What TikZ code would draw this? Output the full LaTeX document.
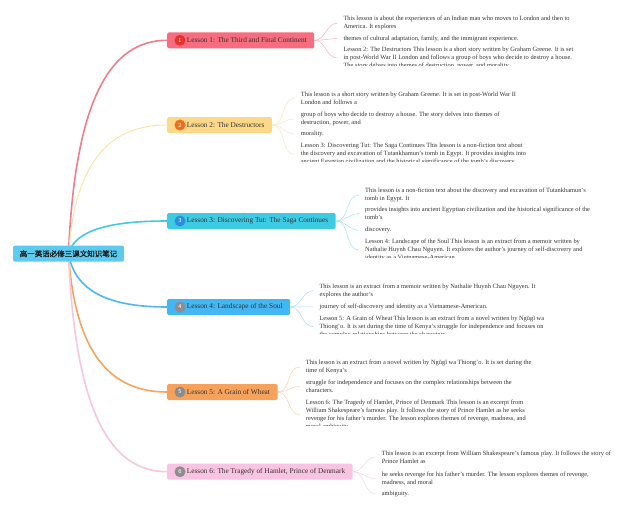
\documentclass[tikz,border=0pt]{standalone}
\usepackage{fontspec}
\setmainfont{Liberation Serif}
\newfontfamily\cjk[FakeBold=1]{Noto Sans CJK SC}
\usetikzlibrary{backgrounds}
\definecolor{txt}{HTML}{333333}
\definecolor{rootc}{HTML}{5CCBEF}
\definecolor{bA}{HTML}{F76C7E}\definecolor{iA}{HTML}{E5322D}\definecolor{mA}{HTML}{EF7E8B}\definecolor{sA}{HTML}{F4B3BB}
\definecolor{bB}{HTML}{FDD888}\definecolor{iB}{HTML}{E8701E}\definecolor{mB}{HTML}{FDE2A6}\definecolor{sB}{HTML}{FBE6C4}
\definecolor{bC}{HTML}{3DCBE3}\definecolor{iC}{HTML}{2B8DE0}\definecolor{mC}{HTML}{45C9E0}\definecolor{sC}{HTML}{A6E3EE}
\definecolor{bD}{HTML}{43B7F3}\definecolor{iD}{HTML}{8E8E8E}\definecolor{mD}{HTML}{4FB9EF}\definecolor{sD}{HTML}{A9D9F4}
\definecolor{bE}{HTML}{F7A25B}\definecolor{iE}{HTML}{8C8C8C}\definecolor{mE}{HTML}{F6A55E}\definecolor{sE}{HTML}{F8D1AE}
\definecolor{bF}{HTML}{F9C3E2}\definecolor{iF}{HTML}{8E8E8E}\definecolor{mF}{HTML}{F9C6DF}\definecolor{sF}{HTML}{F5D6E6}
\begin{document}
\begin{tikzpicture}[x=1pt,y=-1pt,
  rootbox/.style={rectangle, rounded corners=2pt, fill=rootc, minimum width=111pt, minimum height=16pt, inner sep=0pt, text=black!90, font=\cjk\fontsize{7.5}{9}\selectfont},
  lessonbox/.style={rectangle, rounded corners=1.5pt, anchor=west, minimum height=16pt, inner xsep=7.5pt, inner ysep=0pt, text=txt, font=\fontsize{7.3}{9}\selectfont},
  icon/.style={circle, minimum size=11pt, inner sep=0pt, text=white, font=\sffamily\fontsize{6}{7}\selectfont},
  para/.style={anchor=base west, inner xsep=6pt, inner ysep=0pt, align=left, text=txt, font=\fontsize{6.4}{8}\selectfont},
  mainline/.style={line width=1.6pt, line cap=round},
  subline/.style={line width=0.5pt}
]
\useasboundingbox (0,0) rectangle (640,509);

% root
\node[rootbox] (root) at (68.5,253.7) {高一英语必修三课文知识笔记};

% lesson boxes
\node[lessonbox, fill=bA] (bxA) at (167,40.3) {\hspace*{12.2pt}Lesson 1: The Third and Final Continent};
\node[icon, fill=iA] (icA) at (180,40.3) {1};
\node[lessonbox, fill=bB] (bxB) at (167,125) {\hspace*{12.2pt}Lesson 2: The Destructors};
\node[icon, fill=iB] (icB) at (180,125) {2};
\node[lessonbox, fill=bC] (bxC) at (167,221) {\hspace*{12.2pt}Lesson 3: Discovering Tut: The Saga Continues};
\node[icon, fill=iC] (icC) at (180,221) {3};
\node[lessonbox, fill=bD] (bxD) at (167,307) {\hspace*{12.2pt}Lesson 4: Landscape of the Soul};
\node[icon, fill=iD] (icD) at (180,307) {4};
\node[lessonbox, fill=bE] (bxE) at (167,392) {\hspace*{12.2pt}Lesson 5: A Grain of Wheat};
\node[icon, fill=iE] (icE) at (180,392) {5};
\node[lessonbox, fill=bF] (bxF) at (167,471.7) {\hspace*{12.2pt}Lesson 6: The Tragedy of Hamlet, Prince of Denmark};
\node[icon, fill=iF] (icF) at (180,471.7) {6};

% Lesson 1 texts (anchor = baseline of last line)
\node[para] (tA1) at (337.3,28.8) {This lesson is about the experiences of an Indian man who moves to London and then to\\America. It explores};
\node[para] (tA2) at (337.3,40.2) {themes of cultural adaptation, family, and the immigrant experience.};
\begin{scope}
\clip (330,44) rectangle (640,65.2);
\node[para] (tA3) at (337.3,67.5) {Lesson 2: The Destructors This lesson is a short story written by Graham Greene. It is set\\in post-World War II London and follows a group of boys who decide to destroy a house.\\The story delves into themes of destruction, power, and morality.};
\end{scope}

% Lesson 2 texts
\node[para] (tB1) at (294.7,104.5) {This lesson is a short story written by Graham Greene. It is set in post-World War II\\London and follows a};
\node[para] (tB2) at (294.7,124.5) {group of boys who decide to destroy a house. The story delves into themes of\\destruction, power, and};
\node[para] (tB3) at (294.7,135.5) {morality.};
\begin{scope}
\clip (290,140) rectangle (640,161.5);
\node[para] (tB4) at (294.7,163.8) {Lesson 3: Discovering Tut: The Saga Continues This lesson is a non-fiction text about\\the discovery and excavation of Tutankhamun's tomb in Egypt. It provides insights into\\ancient Egyptian civilization and the historical significance of the tomb's discovery.};
\end{scope}

% Lesson 3 texts
\node[para] (tC1) at (359,200.5) {This lesson is a non-fiction text about the discovery and excavation of Tutankhamun's\\tomb in Egypt. It};
\node[para] (tC2) at (359,219.8) {provides insights into ancient Egyptian civilization and the historical significance of the\\tomb's};
\node[para] (tC3) at (359,231.8) {discovery.};
\begin{scope}
\clip (350,235) rectangle (640,257.2);
\node[para] (tC4) at (359,259.5) {Lesson 4: Landscape of the Soul This lesson is an extract from a memoir written by\\Nathalie Huynh Chau Nguyen. It explores the author's journey of self-discovery and\\identity as a Vietnamese-American.};
\end{scope}

% Lesson 4 texts
\node[para] (tD1) at (313.3,296.2) {This lesson is an extract from a memoir written by Nathalie Huynh Chau Nguyen. It\\explores the author's};
\node[para] (tD2) at (313.3,308.5) {journey of self-discovery and identity as a Vietnamese-American.};
\begin{scope}
\clip (305,312) rectangle (640,333.9);
\node[para] (tD3) at (313.3,336.2) {Lesson 5: A Grain of Wheat This lesson is an extract from a novel written by Ngũgĩ wa\\Thiong'o. It is set during the time of Kenya's struggle for independence and focuses on\\the complex relationships between the characters.};
\end{scope}

% Lesson 5 texts
\node[para] (tE1) at (299.7,372.5) {This lesson is an extract from a novel written by Ngũgĩ wa Thiong'o. It is set during the\\time of Kenya's};
\node[para] (tE2) at (299.7,392.8) {struggle for independence and focuses on the complex relationships between the\\characters.};
\begin{scope}
\clip (290,396) rectangle (640,425.9);
\node[para] (tE3) at (299.7,428.2) {Lesson 6: The Tragedy of Hamlet, Prince of Denmark This lesson is an excerpt from\\William Shakespeare's famous play. It follows the story of Prince Hamlet as he seeks\\revenge for his father's murder. The lesson explores themes of revenge, madness, and\\moral ambiguity.};
\end{scope}

% Lesson 6 texts
\node[para] (tF1) at (375.7,463.2) {This lesson is an excerpt from William Shakespeare's famous play. It follows the story of\\Prince Hamlet as};
\node[para] (tF2) at (375.7,484.5) {he seeks revenge for his father's murder. The lesson explores themes of revenge,\\madness, and moral};
\node[para] (tF3) at (375.7,495.2) {ambiguity.};

\begin{pgfonlayer}{background}
\fill[white] (0,0) rectangle (640,509);
% main connectors
\draw[mainline, mA] (root.center) .. controls (75,100) and (110,40.3) .. (bxA.west);
\draw[mainline, mB, line width=0.9pt] (root.center) .. controls (75,161) and (110,125) .. (bxB.west);
\draw[mainline, mC] (root.center) .. controls (75,230) and (110,221) .. (bxC.west);
\draw[mainline, mD] (root.center) .. controls (75,292) and (110,307) .. (bxD.west);
\draw[mainline, mE] (root.center) .. controls (75,353) and (110,392) .. (bxE.west);
\draw[mainline, mF] (root.center) .. controls (75,411) and (110,471.7) .. (bxF.west);
% sub connectors
\foreach \t in {tA1,tA2,tA3}{\draw[subline, sA] (bxA.east) to[out=0,in=180] (\t.west);}
\foreach \t in {tB1,tB2,tB3,tB4}{\draw[subline, sB] (bxB.east) to[out=0,in=180] (\t.west);}
\foreach \t in {tC1,tC2,tC3,tC4}{\draw[subline, sC] (bxC.east) to[out=0,in=180] (\t.west);}
\foreach \t in {tD1,tD2,tD3}{\draw[subline, sD] (bxD.east) to[out=0,in=180] (\t.west);}
\foreach \t in {tE1,tE2,tE3}{\draw[subline, sE] (bxE.east) to[out=0,in=180] (\t.west);}
\foreach \t in {tF1,tF2,tF3}{\draw[subline, sF] (bxF.east) to[out=0,in=180] (\t.west);}
\end{pgfonlayer}
\end{tikzpicture}
\end{document}
